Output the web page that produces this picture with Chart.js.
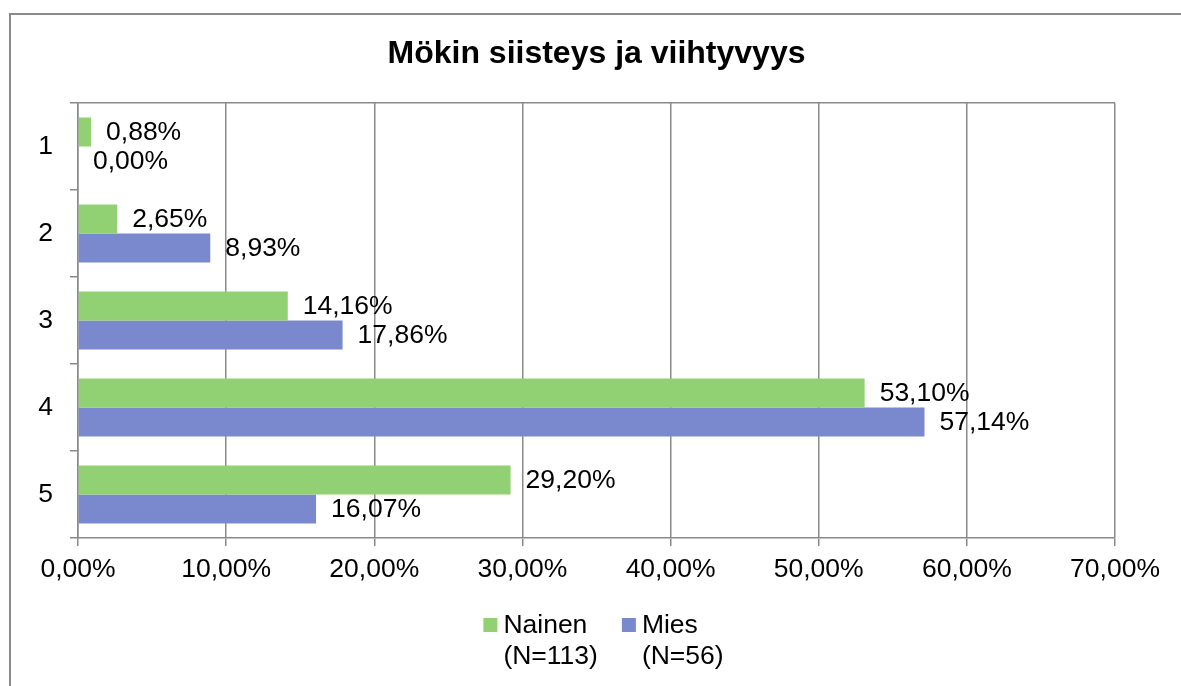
<!DOCTYPE html>
<html>
<head>
<meta charset="utf-8">
<script src="https://cdn.jsdelivr.net/npm/chart.js@4"></script>
<style>
  html, body { margin: 0; padding: 0; background: #fff; overflow: hidden; }
  #frame { position: absolute; left: 9px; top: 13px; width: 1300px; height: 800px; border: 2px solid #8a8a8a; }
  #wrap { position: absolute; left: 0; top: 0; width: 1181px; height: 686px; }
</style>
</head>
<body>
<div id="frame"></div>
<div id="wrap"><canvas id="chart"></canvas></div>
<script>
// Mökin siisteys ja viihtyvyys — horizontal bars, Nainen vs Mies

const categories = ['1', '2', '3', '4', '5'];
const nainen = [0.88, 2.65, 14.16, 53.10, 29.20];
const mies = [0.00, 8.93, 17.86, 57.14, 16.07];
const seriesNames = [['Nainen', '(N=113)'], ['Mies', '(N=56)']];
const xTicks = [0, 10, 20, 30, 40, 50, 60, 70];

const GREEN = '#92d173';
const BLUE = '#7a89cd';
const GRID = '#8a8a8a';
const FONT = "'Liberation Sans', Arial, sans-serif";

Chart.defaults.font.family = FONT;
Chart.defaults.font.size = 26.5;
Chart.defaults.color = '#000';

const pct = v => v.toFixed(2).replace('.', ',') + '%';

// value labels at the end of each bar
const barLabels = {
  id: 'barLabels',
  afterDatasetsDraw(chart) {
    const ctx = chart.ctx;
    ctx.save();
    ctx.font = '26.5px ' + FONT;
    ctx.fillStyle = '#000';
    ctx.textAlign = 'left';
    ctx.textBaseline = 'middle';
    chart.data.datasets.forEach((ds, i) => {
      chart.getDatasetMeta(i).data.forEach((bar, j) => {
        ctx.fillText(pct(ds.data[j]), bar.x + 15, bar.y + 1);
      });
    });
    ctx.restore();
  }
};

// two-line legend under the axis
const legendBelow = {
  id: 'legendBelow',
  afterDraw(chart) {
    const ctx = chart.ctx;
    const box = 14, gap = 6, itemGap = 24, lh = 31;
    ctx.save();
    ctx.font = '26.5px ' + FONT;
    ctx.textBaseline = 'middle';
    ctx.textAlign = 'left';
    const widths = seriesNames.map(lines => box + gap + Math.max(...lines.map(t => ctx.measureText(t).width)));
    const total = widths.reduce((a, b) => a + b, 0) + itemGap * (widths.length - 1);
    const area = chart.chartArea;
    let x = (area.left + area.right) / 2 + 7 - total / 2;
    const y = 625;
    chart.data.datasets.forEach((ds, i) => {
      ctx.fillStyle = ds.backgroundColor;
      ctx.fillRect(x, y - box / 2, box, box);
      ctx.fillStyle = '#000';
      seriesNames[i].forEach((t, k) => ctx.fillText(t, x + box + gap, y + 1 + k * lh));
      x += widths[i] + itemGap;
    });
    ctx.restore();
  }
};

new Chart(document.getElementById('chart'), {
  type: 'bar',
  data: {
    labels: categories,
    datasets: [
      { label: seriesNames[0].join(' '), data: nainen, backgroundColor: GREEN, categoryPercentage: 0.667, barPercentage: 1.0 },
      { label: seriesNames[1].join(' '), data: mies, backgroundColor: BLUE, categoryPercentage: 0.667, barPercentage: 1.0 }
    ]
  },
  options: {
    indexAxis: 'y',
    responsive: true,
    maintainAspectRatio: false,
    animation: false,
    layout: { padding: { left: 0, right: 66, top: 0, bottom: 88 } },
    plugins: {
      legend: { display: false },
      tooltip: { enabled: false },
      title: {
        display: true,
        text: 'Mökin siisteys ja viihtyvyys',
        fullSize: false,
        color: '#000',
        font: { size: 32, weight: 'bold' },
        padding: { top: 35, bottom: 29.6 }
      }
    },
    scales: {
      x: {
        min: 0, max: 70,
        afterBuildTicks: s => { s.ticks = xTicks.map(v => ({ value: v })); },
        afterFit: s => { s.height = 60; },
        ticks: { callback: v => pct(v), padding: 8, maxRotation: 0 },
        grid: { color: GRID, lineWidth: 1.5, tickColor: GRID, tickLength: 8 },
        border: { color: GRID, width: 1.5 }
      },
      y: {
        afterFit: s => { s.width = 78; },
        ticks: { padding: 17 },
        grid: {
          offset: true,
          color: c => c.index === 0 ? GRID : 'rgba(0,0,0,0)',
          tickColor: GRID,
          lineWidth: 1.5,
          tickLength: 8
        },
        border: { color: GRID, width: 1.5 }
      }
    }
  },
  plugins: [barLabels, legendBelow]
});
</script>
</body>
</html>
